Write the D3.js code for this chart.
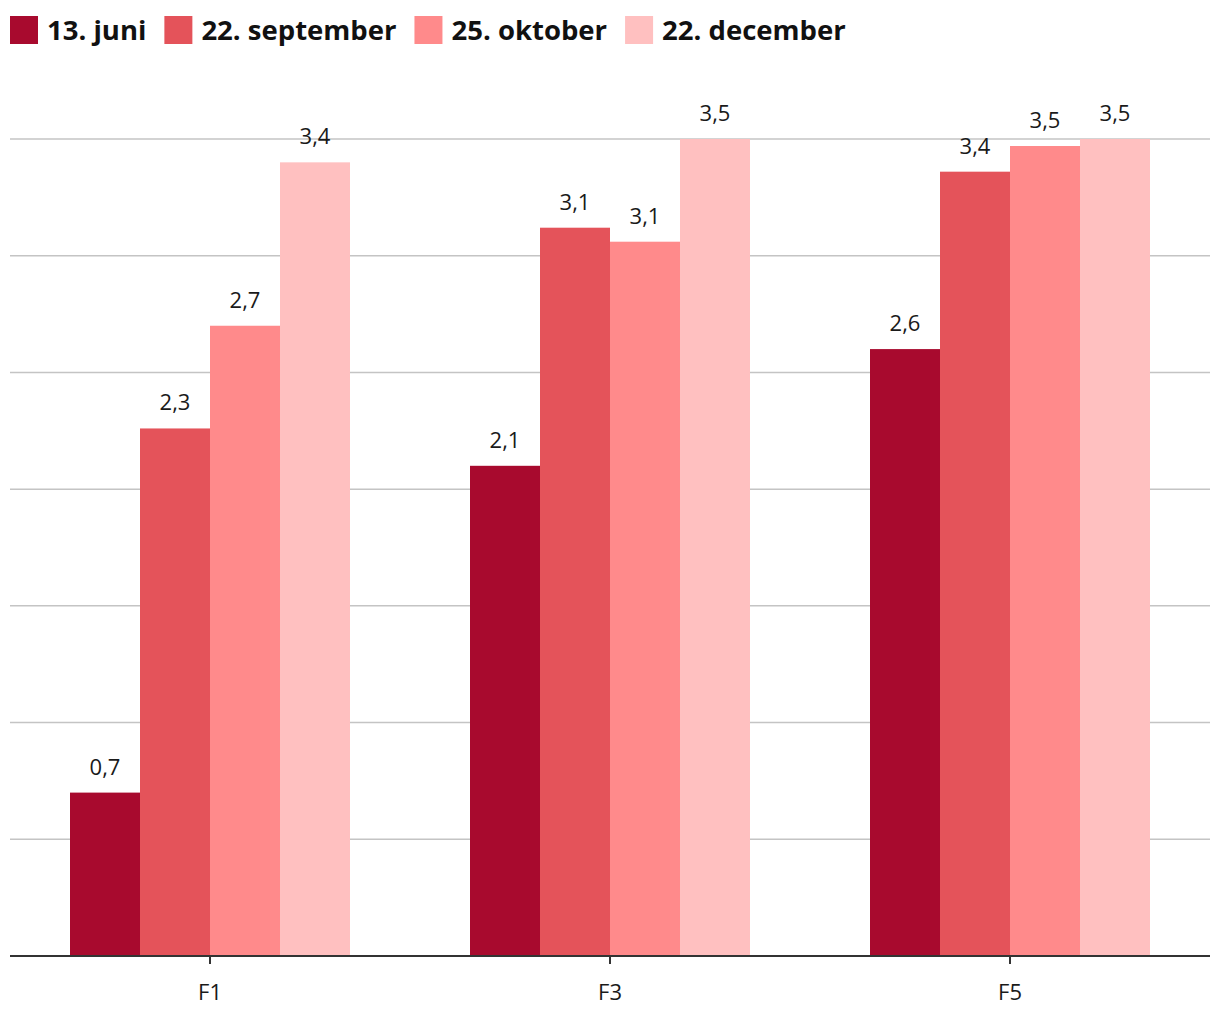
<!DOCTYPE html>
<html><head><meta charset="utf-8">
<script src="https://cdn.jsdelivr.net/npm/d3@7"></script>
<style>body{margin:0;background:#fff;} text{font-family:"Open Sans","Noto Sans",sans-serif;}</style>
</head><body>
<svg id="c" width="1220" height="1020"></svg>
<script>
const categories = ["F1", "F3", "F5"];
const seriesNames = ["13. juni", "22. september", "25. oktober", "22. december"];
const colors = ["#a80a2e", "#e4535a", "#ff8a8b", "#ffc0c0"];
const juni = [0.7, 2.1, 2.6];
const september = [2.26, 3.12, 3.36];
const oktober = [2.7, 3.06, 3.47];
const december = [3.4, 3.5, 3.5];
const yTicks = [0, 0.5, 1, 1.5, 2, 2.5, 3, 3.5];

(function () {
const series = [juni, september, oktober, december];
const svg = d3.select("#c");
const mLeft = 10, mRight = 1210, mTop = 139, mBottom = 956;

const x0 = d3.scaleBand().domain(categories).range([mLeft, mRight]).paddingInner(0.3).paddingOuter(0.15);
const x1 = d3.scaleBand().domain(d3.range(series.length)).range([0, x0.bandwidth()]);
const y = d3.scaleLinear().domain([0, 3.5]).range([mBottom, mTop]);

// gridlines
svg.append("g").selectAll("line").data(yTicks.filter(d => d > 0)).join("line")
  .attr("x1", mLeft).attr("x2", mRight)
  .attr("y1", d => y(d)).attr("y2", d => y(d))
  .attr("stroke", "#c4c4c4").attr("stroke-width", 1.5);

// bars
const fmt = v => d3.format(".1f")(v).replace(".", ",");
categories.forEach((c, ci) => {
  series.forEach((s, si) => {
    svg.append("rect")
      .attr("x", x0(c) + x1(si)).attr("width", x1.bandwidth())
      .attr("y", y(s[ci])).attr("height", y(0) - y(s[ci]))
      .attr("fill", colors[si]);
    svg.append("text")
      .attr("x", x0(c) + x1(si) + x1.bandwidth() / 2)
      .attr("y", y(s[ci]) - 18)
      .attr("text-anchor", "middle").attr("font-size", 22).attr("fill", "#1a1a1a")
      .text(fmt(s[ci]));
  });
});

// x axis
const ax = svg.append("g").attr("transform", `translate(0,${mBottom})`)
  .call(d3.axisBottom(x0).tickSize(8).tickPadding(20));
ax.select(".domain").attr("stroke", "#333").attr("stroke-width", 2).attr("d", `M${mLeft},0H${mRight}`);
ax.selectAll(".tick line").attr("stroke", "#333").attr("stroke-width", 2);
ax.selectAll(".tick text").attr("font-size", 22).attr("fill", "#1a1a1a").attr("font-family", "'Open Sans','Noto Sans',sans-serif");

// legend
const leg = svg.append("g");
let lx = 10;
seriesNames.forEach((n, i) => {
  leg.append("rect").attr("x", lx).attr("y", 16).attr("width", 28).attr("height", 28).attr("fill", colors[i]);
  const t = leg.append("text").attr("x", lx + 37).attr("y", 40).attr("font-size", 27.5).attr("font-weight", "bold").attr("fill", "#111").text(n);
  lx += 37 + t.node().getComputedTextLength() + 18;
});
})();
</script>
</body></html>
